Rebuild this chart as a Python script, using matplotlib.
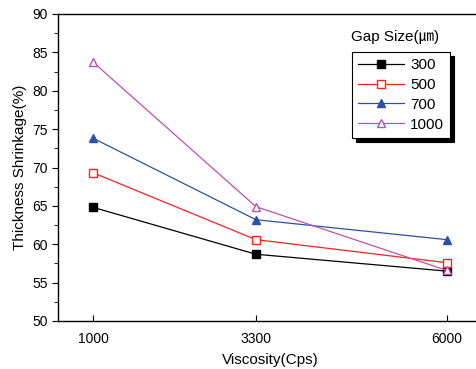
import matplotlib
matplotlib.use("Agg")
import matplotlib.pyplot as plt
from matplotlib.ticker import MultipleLocator

plt.rcParams['font.family'] = ['Liberation Sans', 'Noto Sans CJK KR', 'DejaVu Sans']

viscosity = [1000, 3300, 6000]
gap_labels = ['300', '500', '700', '1000']
s300 = [64.8, 58.7, 56.5]
s500 = [69.3, 60.6, 57.6]
s700 = [73.8, 63.2, 60.6]
s1000 = [83.7, 64.9, 56.6]
x_ticks = [1000, 3300, 6000]
y_ticks = [50, 55, 60, 65, 70, 75, 80, 85, 90]

fig = plt.figure(figsize=(4.76, 3.69), dpi=100)
ax = fig.add_axes([58/476, 1-321/369, (482-58)/476, (321-14)/369])

styles = [
    dict(color='black', marker='s', mfc='black', mec='black'),
    dict(color='#ff2020', marker='s', mfc='white', mec='#ff2020'),
    dict(color='#2c4fa8', marker='^', mfc='#2c4fa8', mec='#2c4fa8'),
    dict(color='#c050b0', marker='^', mfc='white', mec='#c050b0'),
]
handles = []
for vals, lab, st in zip([s300, s500, s700, s1000], gap_labels, styles):
    h, = ax.plot(viscosity, vals, lw=0.9, ms=6, mew=1.0, label=lab, **st)
    handles.append(h)

ax.set_xlim(500, 6500)
ax.set_ylim(50, 90)
ax.set_xticks(x_ticks)
ax.set_xticklabels([str(v) for v in x_ticks])
ax.set_yticks(y_ticks)
ax.yaxis.set_minor_locator(MultipleLocator(2.5))
ax.tick_params(axis='x', direction='in', length=4, labelsize=10, pad=8)
ax.tick_params(axis='y', which='major', direction='out', length=4, labelsize=10)
ax.tick_params(axis='y', which='minor', direction='out', length=3)
for sp in ax.spines.values():
    sp.set_linewidth(1.0)

ax.set_xlabel('Viscosity(Cps)', fontsize=11, labelpad=5)
ax.set_ylabel('Thickness Shrinkage(%)', fontsize=11, labelpad=4)

leg = ax.legend(handles=handles, loc='upper left', bbox_to_anchor=((352-58)/424, (321-52)/307),
                borderaxespad=0, markerscale=0.9,
                frameon=True, fancybox=False, edgecolor='black', fontsize=11,
                handlelength=3.0, handletextpad=0.4, borderpad=0.4, labelspacing=0.38,
                shadow={'color': 'black', 'alpha': 1.0, 'ox': 3, 'oy': -3})
leg.get_frame().set_linewidth(0.8)
fig.text(395/476, 1-37/369, 'Gap Size(㎛)', fontsize=11, ha='center', va='center')

fig.savefig('out.png', dpi=100)
